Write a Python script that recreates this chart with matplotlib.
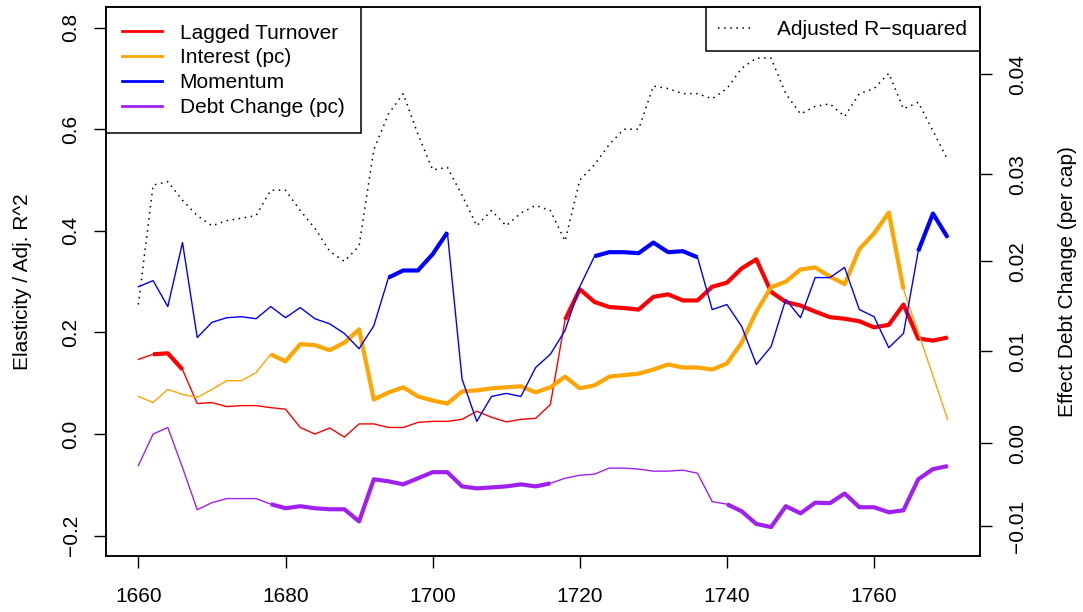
import numpy as np
import matplotlib
matplotlib.use("Agg")
import matplotlib.pyplot as plt

plt.rcParams["font.family"] = ["Liberation Sans", "DejaVu Sans"]

years = list(range(1660, 1772, 2))

adj_r2 = [0.255, 0.49, 0.497, 0.46, 0.43, 0.41, 0.42, 0.425, 0.43, 0.48,
          0.48, 0.44, 0.405, 0.36, 0.34, 0.37, 0.56, 0.63, 0.67, 0.59,
          0.52, 0.525, 0.47, 0.41, 0.44, 0.41, 0.435, 0.45, 0.44, 0.38,
          0.50, 0.53, 0.57, 0.60, 0.60, 0.685, 0.68, 0.67, 0.67, 0.66,
          0.68, 0.72, 0.74, 0.74, 0.67, 0.63, 0.645, 0.65, 0.625, 0.67,
          0.68, 0.71, 0.64, 0.653, 0.597, 0.54]

turnover = [0.147, 0.157, 0.159, 0.127, 0.06, 0.062, 0.054, 0.056, 0.056, 0.052,
            0.049, 0.013, 0.0, 0.012, -0.006, 0.02, 0.02, 0.013, 0.013, 0.023,
            0.025, 0.025, 0.029, 0.045, 0.033, 0.024, 0.029, 0.031, 0.058, 0.225,
            0.285, 0.26, 0.25, 0.248, 0.245, 0.27, 0.275, 0.263, 0.263, 0.29,
            0.298, 0.326, 0.344, 0.28, 0.26, 0.253, 0.241, 0.23, 0.227, 0.222,
            0.21, 0.215, 0.255, 0.188, 0.184, 0.19]
turnover_sig = [0, 1, 1, 1, 0, 0, 0, 0, 0, 0,
                0, 0, 0, 0, 0, 0, 0, 0, 0, 0,
                0, 0, 0, 0, 0, 0, 0, 0, 0, 1,
                1, 1, 1, 1, 1, 1, 1, 1, 1, 1,
                1, 1, 1, 1, 1, 1, 1, 1, 1, 1,
                1, 1, 1, 1, 1, 1]

interest = [0.074, 0.062, 0.088, 0.078, 0.072, 0.088, 0.105, 0.105, 0.121, 0.157,
            0.143, 0.177, 0.175, 0.165, 0.18, 0.206, 0.068, 0.082, 0.092, 0.074,
            0.066, 0.06, 0.084, 0.086, 0.09, 0.092, 0.094, 0.082, 0.092, 0.113,
            0.09, 0.096, 0.113, 0.116, 0.119, 0.127, 0.137, 0.131, 0.131, 0.127,
            0.139, 0.18, 0.241, 0.289, 0.30, 0.324, 0.328, 0.31, 0.295, 0.364,
            0.395, 0.436, 0.285, 0.2, 0.115, 0.029]
interest_sig = [0, 0, 0, 0, 0, 0, 0, 0, 0, 1,
                1, 1, 1, 1, 1, 1, 1, 1, 1, 1,
                1, 1, 1, 1, 1, 1, 1, 1, 1, 1,
                1, 1, 1, 1, 1, 1, 1, 1, 1, 1,
                1, 1, 1, 1, 1, 1, 1, 1, 1, 1,
                1, 1, 1, 0, 0, 0]

momentum = [0.29, 0.302, 0.251, 0.377, 0.19, 0.22, 0.229, 0.231, 0.227, 0.251,
            0.229, 0.249, 0.227, 0.217, 0.198, 0.168, 0.213, 0.308, 0.322, 0.322,
            0.354, 0.397, 0.108, 0.025, 0.074, 0.08, 0.074, 0.131, 0.157, 0.204,
            0.29, 0.35, 0.358, 0.358, 0.356, 0.377, 0.358, 0.36, 0.348, 0.245,
            0.255, 0.212, 0.137, 0.172, 0.265, 0.229, 0.308, 0.308, 0.328, 0.245,
            0.231, 0.17, 0.198, 0.36, 0.434, 0.387]
momentum_sig = [0, 0, 0, 0, 0, 0, 0, 0, 0, 0,
                0, 0, 0, 0, 0, 0, 0, 1, 1, 1,
                1, 1, 0, 0, 0, 0, 0, 0, 0, 0,
                0, 1, 1, 1, 1, 1, 1, 1, 1, 0,
                0, 0, 0, 0, 0, 0, 0, 0, 0, 0,
                0, 0, 0, 1, 1, 1]

# debt change effect, drawn in left-axis units
debt = [-0.062, 0.0, 0.013, -0.066, -0.149, -0.135, -0.127, -0.127, -0.127, -0.138,
        -0.146, -0.142, -0.146, -0.148, -0.148, -0.172, -0.089, -0.093, -0.099, -0.087,
        -0.075, -0.075, -0.103, -0.107, -0.105, -0.103, -0.099, -0.103, -0.097, -0.087,
        -0.081, -0.079, -0.067, -0.067, -0.069, -0.073, -0.073, -0.071, -0.077, -0.133,
        -0.138, -0.152, -0.177, -0.183, -0.142, -0.156, -0.135, -0.136, -0.117, -0.144,
        -0.144, -0.154, -0.150, -0.089, -0.069, -0.063]
debt_sig = [0, 0, 0, 0, 0, 0, 0, 0, 0, 1,
            1, 1, 1, 1, 1, 1, 1, 1, 1, 1,
            1, 1, 1, 1, 1, 1, 1, 1, 1, 0,
            0, 0, 0, 0, 0, 0, 0, 0, 0, 0,
            1, 1, 1, 1, 1, 1, 1, 1, 1, 1,
            1, 1, 1, 1, 1, 1]

right_tick_pos = [-0.181, -0.018, 0.163, 0.34, 0.511, 0.708]
right_tick_lab = ["-0.01", "0.00", "0.01", "0.02", "0.03", "0.04"]

series = [("Lagged Turnover", turnover, turnover_sig, "#FF0000"),
          ("Interest (pc)", interest, interest_sig, "#FFA500"),
          ("Momentum", momentum, momentum_sig, "#0000FF"),
          ("Debt Change (pc)", debt, debt_sig, "#A020F0")]

FS = 15
DOT = (0, (1, 3))

fig = plt.figure(figsize=(10.83, 6.12), dpi=100)
ax = fig.add_axes([106 / 1083, 1 - 556 / 612, 874 / 1083, 548.7 / 612])
x = np.array(years)

ax.plot(x, adj_r2, color="black", lw=1.1, ls=DOT)
handles = []
for name, vals, sig, col in series:
    v = np.array(vals, float)
    ax.plot(x, v, color=col, lw=1.0)
    thick = np.where(np.array(sig) == 1, v, np.nan)
    ax.plot(x, thick, color=col, lw=3.0, solid_capstyle="butt")
    h, = ax.plot([], [], color=col, lw=2.0)
    handles.append((h, name))

ax.set_xlim(1655.6, 1774.4)
ax.set_ylim(-0.24, 0.84)
ax.set_xticks(range(1660, 1770, 20))
ax.set_yticks([-0.2, 0.0, 0.2, 0.4, 0.6, 0.8])
ax.set_yticklabels(["\u22120.2", "0.0", "0.2", "0.4", "0.6", "0.8"], rotation=90, va="center")
ax.tick_params(direction="out", length=8.3, width=1, labelsize=FS)
ax.tick_params(axis="y", pad=10)
ax.tick_params(axis="x", pad=14)
ax.set_ylabel("Elasticity / Adj. R^2", fontsize=FS, labelpad=21)

ax2 = ax.twinx()
ax2.set_ylim(ax.get_ylim())
ax2.set_yticks(right_tick_pos)
ax2.set_yticklabels([s.replace("-", "\u2212") for s in right_tick_lab], rotation=90, va="center")
ax2.tick_params(direction="out", length=8.3, width=1, labelsize=FS, pad=12)
ax2.set_ylabel("Effect Debt Change (per cap)", fontsize=FS, labelpad=22)

for a in (ax, ax2):
    for s in a.spines.values():
        s.set_linewidth(1.1)

leg1 = ax.legend([h for h, _ in handles], [n for _, n in handles], loc="upper left",
                 bbox_to_anchor=(0, 1), borderaxespad=0, fancybox=False, edgecolor="black",
                 framealpha=1, fontsize=FS, handlelength=1.9, labelspacing=0.28,
                 borderpad=0.78, handletextpad=0.85)
leg1.get_frame().set_linewidth(1.1)
ax.add_artist(leg1)
hr, = ax.plot([], [], color="black", lw=1.1, ls=DOT)
leg2 = ax.legend([hr], ["Adjusted R\u2212squared"], loc="upper right", bbox_to_anchor=(1, 1),
                 borderaxespad=0, fancybox=False, edgecolor="black", framealpha=1,
                 fontsize=FS, handlelength=1.7, borderpad=0.6, handletextpad=1.15)
leg2.get_frame().set_linewidth(1.1)

fig.savefig("out.png", dpi=100)
